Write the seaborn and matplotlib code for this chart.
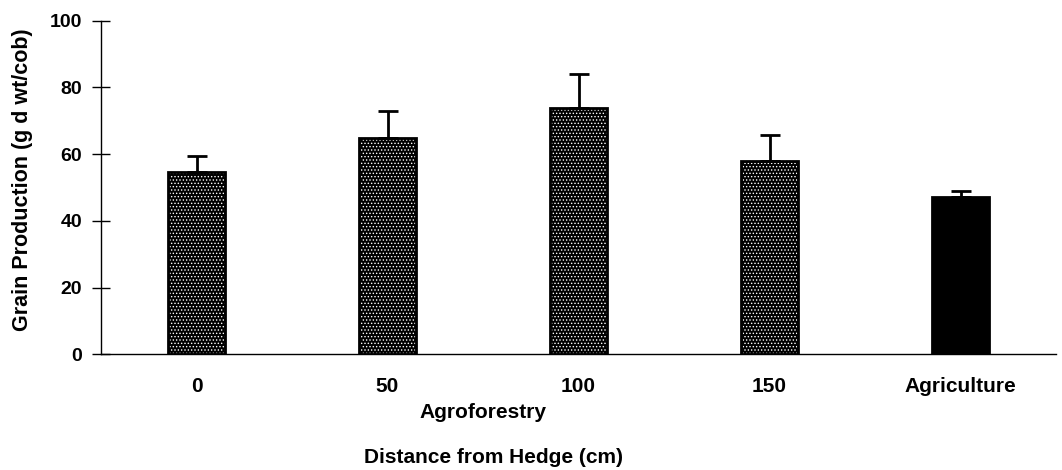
import matplotlib
matplotlib.use("Agg")
import matplotlib.pyplot as plt
import seaborn as sns
import pandas as pd
import numpy as np

categories = ["0", "50", "100", "150", "Agriculture"]
values = [54.7, 64.7, 73.9, 58.0, 47.1]
errors = [4.7, 8.3, 10.1, 7.8, 1.9]
hatches = [".....", ".....", ".....", ".....", ""]
group_label = "Agroforestry"
x_label = "Distance from Hedge (cm)"
y_label = "Grain Production (g d wt/cob)"
y_ticks = [0, 20, 40, 60, 80, 100]

sns.set_theme(style="white")
plt.rcParams['font.family'] = ['Liberation Sans', 'DejaVu Sans']
plt.rcParams['font.weight'] = 'bold'
plt.rcParams['hatch.linewidth'] = 0.6
for k in ['text.color', 'axes.labelcolor', 'xtick.color', 'ytick.color',
          'xtick.labelcolor', 'ytick.labelcolor']:
    plt.rcParams[k] = 'black'

fig = plt.figure(figsize=(10.62, 4.70), dpi=100)
ax = fig.add_axes([101/1062, 1-354.3/470, 955/1062, 333.6/470])

df = pd.DataFrame({"cat": categories, "val": values})
sns.barplot(data=df, x="cat", y="val", width=0.3, color="black", saturation=1,
            errorbar=None, ax=ax)
for p, h in zip(ax.patches, hatches):
    if h:
        p.set_hatch(h)
        p.set_edgecolor("white")
    p.set_linewidth(0)
sns.barplot(data=df, x="cat", y="val", width=0.3, color="black", fill=False,
            linewidth=2, errorbar=None, ax=ax)

ax.errorbar(x=np.arange(len(values)), y=values,
            yerr=[np.zeros(len(values)), errors], fmt="none", ecolor="black",
            elinewidth=2, capsize=7.5, capthick=2, zorder=1)

ax.set_xlim(-0.5, len(categories) - 0.5)
ax.set_ylim(0, 100)
ax.set_yticks(y_ticks)
ax.set_yticklabels([str(t) for t in y_ticks], fontsize=14, fontweight="bold", color="black")
ax.set_xticks(np.arange(len(categories) + 1) - 0.5)
ax.set_xticklabels([])
ax.set_xticks(np.arange(len(categories)), minor=True)
ax.set_xticklabels(categories, minor=True, fontsize=15, fontweight="bold", color="black")
ax.tick_params(axis="x", which="major", direction="inout", length=13, width=1, color="black")
ax.tick_params(axis="x", which="minor", length=0, pad=16)
ax.tick_params(axis="y", which="major", direction="inout", length=13, width=1, color="black", pad=7, left=True)
ax.set_xlabel("")
ax.set_ylabel(y_label, fontsize=15.5, fontweight="bold", color="black")
ax.yaxis.set_label_coords(-0.0712, 0.522)

for s in ["top", "right"]:
    ax.spines[s].set_visible(False)
for s in ["left", "bottom"]:
    ax.spines[s].set_color("black")
    ax.spines[s].set_linewidth(1)

ax.text(1.5, -0.173, group_label, transform=ax.get_xaxis_transform(),
        ha="center", va="center", fontsize=15, fontweight="bold", color="black")
fig.text(493/1062, 1-457.5/470, x_label, ha="center", va="center",
         fontsize=15, fontweight="bold", color="black")

fig.savefig("out.png", dpi=100)
